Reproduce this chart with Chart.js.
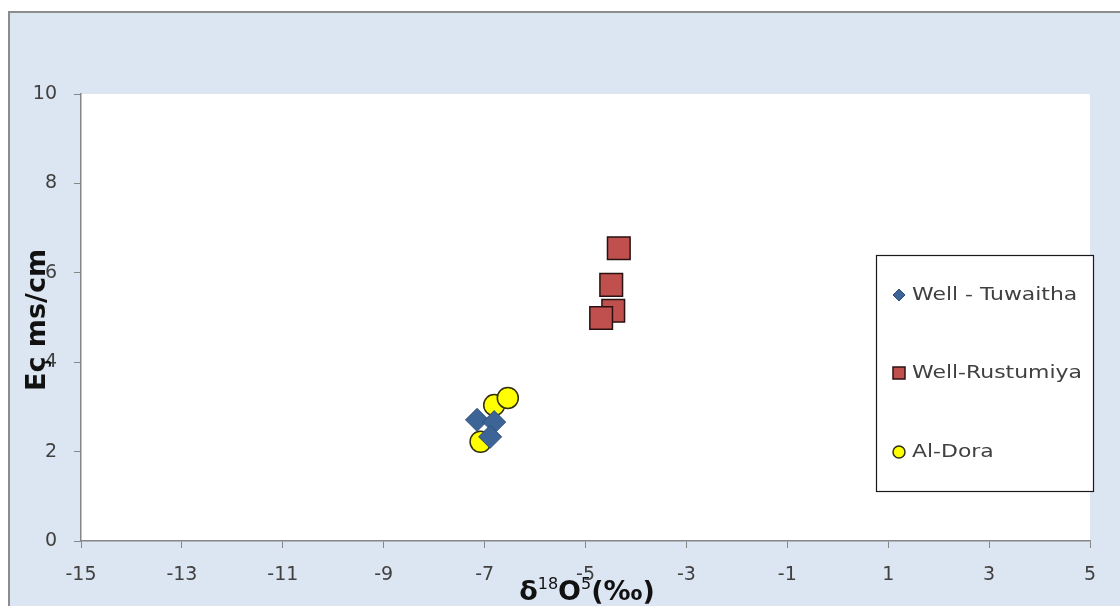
<!DOCTYPE html>
<html>
<head>
<meta charset="utf-8">
<script src="https://cdn.jsdelivr.net/npm/chart.js@4/dist/chart.umd.min.js"></script>
<style>
  html, body { margin: 0; padding: 0; background: #ffffff; }
  #wrap { width: 1120px; height: 606px; position: relative; }
</style>
</head>
<body>
<div id="wrap"><canvas id="c" width="1120" height="606"></canvas></div>
<script>
// δ18O (‰) against EC (ms/cm) for three groundwater sources
const seriesNames = ['Well - Tuwaitha', 'Well-Rustumiya', 'Al-Dora'];
const tuwaithaX = [-7.15, -6.81, -6.89];
const tuwaithaY = [2.71, 2.66, 2.33];
const rustumiyaX = [-4.34, -4.49, -4.45, -4.69];
const rustumiyaY = [6.55, 5.73, 5.15, 4.99];
const doraX = [-7.08, -6.81, -6.54];
const doraY = [2.22, 3.04, 3.20];
const xTicks = [-15, -13, -11, -9, -7, -5, -3, -1, 1, 3, 5];
const yTicks = [0, 2, 4, 6, 8, 10];

const toPoints = (xs, ys) => xs.map((x, i) => ({ x: x, y: ys[i] }));

const FONT = "'DejaVu Sans', 'Open Sans', sans-serif";
const TEXT = '#404040';
const AXIS = '#868686';

// Panel background and frame
const panelPlugin = {
  id: 'panel',
  beforeDraw(chart) {
    const ctx = chart.ctx;
    ctx.save();
    ctx.fillStyle = '#ffffff';
    ctx.fillRect(0, 0, chart.width, chart.height);
    ctx.fillStyle = '#dce6f2';
    ctx.fillRect(9, 12, chart.width - 9, chart.height - 12);
    ctx.strokeStyle = '#8c8c8c';
    ctx.lineWidth = 2;
    ctx.beginPath();
    ctx.moveTo(9, chart.height);
    ctx.lineTo(9, 12);
    ctx.lineTo(chart.width, 12);
    ctx.stroke();
    const a = chart.chartArea;
    ctx.fillStyle = '#ffffff';
    ctx.fillRect(a.left, a.top, a.right - a.left, a.bottom - a.top);
    ctx.restore();
  }
};

// Axis titles (drawn so the superscripts in the x title can be set)
const titlePlugin = {
  id: 'axisTitles',
  afterDraw(chart) {
    const ctx = chart.ctx;
    ctx.save();
    ctx.fillStyle = '#111111';
    // y title, rotated
    ctx.translate(45, 320);
    ctx.rotate(-Math.PI / 2);
    ctx.font = "bold 27px " + FONT;
    ctx.textAlign = 'center';
    ctx.textBaseline = 'alphabetic';
    ctx.fillText('Eç ms/cm', 0, 0);
    ctx.restore();

    // x title: δ 18 O 5 (‰)
    ctx.save();
    ctx.fillStyle = '#111111';
    ctx.textBaseline = 'alphabetic';
    ctx.textAlign = 'left';
    const parts = [
      { t: 'δ', f: "bold 27px " + FONT, dy: 0 },
      { t: '18', f: "16px " + FONT, dy: -11 },
      { t: 'O', f: "bold 27px " + FONT, dy: 0 },
      { t: '5', f: "16px " + FONT, dy: -11 },
      { t: '(‰)', f: "bold 27px " + FONT, dy: 0 }
    ];
    let total = 0;
    parts.forEach(p => { ctx.font = p.f; p.w = ctx.measureText(p.t).width; total += p.w; });
    let x = 587 - total / 2;
    const base = 600;
    parts.forEach(p => { ctx.font = p.f; ctx.fillText(p.t, x, base + p.dy); x += p.w; });
    ctx.restore();
  }
};

// Boxed legend inside the plot area
const legendPlugin = {
  id: 'boxLegend',
  afterDraw(chart) {
    const ctx = chart.ctx;
    ctx.save();
    const bx = 876, by = 255, bw = 217, bh = 236;
    ctx.fillStyle = '#ffffff';
    ctx.fillRect(bx, by, bw, bh);
    ctx.strokeStyle = '#1a1a1a';
    ctx.lineWidth = 1.2;
    ctx.strokeRect(bx + 0.5, by + 0.5, bw, bh);
    const rows = [295, 373, 452];
    chart.data.datasets.forEach((ds, i) => {
      const cy = rows[i];
      const cx = 899;
      ctx.fillStyle = ds.backgroundColor;
      ctx.strokeStyle = ds.borderColor;
      ctx.lineWidth = ds.borderWidth;
      ctx.beginPath();
      if (ds.pointStyle === 'rectRot') {
        const r = ds.legendRadius;
        ctx.moveTo(cx - r, cy); ctx.lineTo(cx, cy - r); ctx.lineTo(cx + r, cy); ctx.lineTo(cx, cy + r); ctx.closePath();
      } else if (ds.pointStyle === 'rect') {
        const s = ds.legendRadius;
        ctx.rect(cx - s, cy - s, 2 * s, 2 * s);
      } else {
        ctx.arc(cx, cy, ds.legendRadius, 0, Math.PI * 2);
      }
      ctx.fill();
      ctx.stroke();
      ctx.save();
      ctx.fillStyle = TEXT;
      ctx.font = "17px " + FONT;
      ctx.textAlign = 'left';
      ctx.textBaseline = 'middle';
      ctx.translate(912, cy + 1);
      ctx.scale(1.29, 1);
      ctx.fillText(ds.label, 0, 0);
      ctx.restore();
    });
    ctx.restore();
  }
};

new Chart(document.getElementById('c'), {
  type: 'scatter',
  data: {
    datasets: [
      {
        label: seriesNames[0],
        data: toPoints(tuwaithaX, tuwaithaY),
        pointStyle: 'rectRot',
        pointRadius: 11.5,
        pointHoverRadius: 11.5,
        legendRadius: 6,
        backgroundColor: '#3d6497',
        borderColor: '#2e4d78',
        borderWidth: 1
      },
      {
        label: seriesNames[1],
        data: toPoints(rustumiyaX, rustumiyaY),
        pointStyle: 'rect',
        pointRadius: 16,
        pointHoverRadius: 16,
        legendRadius: 6,
        backgroundColor: '#c0504d',
        borderColor: '#2a1212',
        borderWidth: 1.5
      },
      {
        label: seriesNames[2],
        data: toPoints(doraX, doraY),
        pointStyle: 'circle',
        pointRadius: 10.5,
        pointHoverRadius: 10.5,
        legendRadius: 6,
        backgroundColor: '#ffff00',
        borderColor: '#2e2e10',
        borderWidth: 1.5
      }
    ]
  },
  options: {
    responsive: false,
    animation: false,
    events: [],
    layout: { padding: { left: 0, top: 94, right: 30, bottom: 0 } },
    plugins: {
      legend: { display: false },
      tooltip: { enabled: false },
      title: { display: false }
    },
    scales: {
      x: {
        type: 'linear',
        min: -15,
        max: 5,
        afterBuildTicks(scale) { scale.ticks = xTicks.map(v => ({ value: v })); },
        afterFit(scale) { scale.height = 65; },
        grid: { drawOnChartArea: false, drawTicks: true, tickLength: 7, color: AXIS, lineWidth: 1 },
        border: { display: true, color: AXIS, width: 1.5 },
        ticks: { color: TEXT, font: { family: FONT, size: 19 }, padding: 16, maxRotation: 0 }
      },
      y: {
        type: 'linear',
        min: 0,
        max: 10,
        afterBuildTicks(scale) { scale.ticks = yTicks.map(v => ({ value: v })); },
        afterFit(scale) { scale.width = 81; },
        grid: { drawOnChartArea: false, drawTicks: true, tickLength: 7, color: AXIS, lineWidth: 1 },
        border: { display: true, color: AXIS, width: 1.5 },
        ticks: { color: TEXT, font: { family: FONT, size: 19 }, padding: 17 }
      }
    }
  },
  plugins: [panelPlugin, titlePlugin, legendPlugin]
});
</script>
</body>
</html>
